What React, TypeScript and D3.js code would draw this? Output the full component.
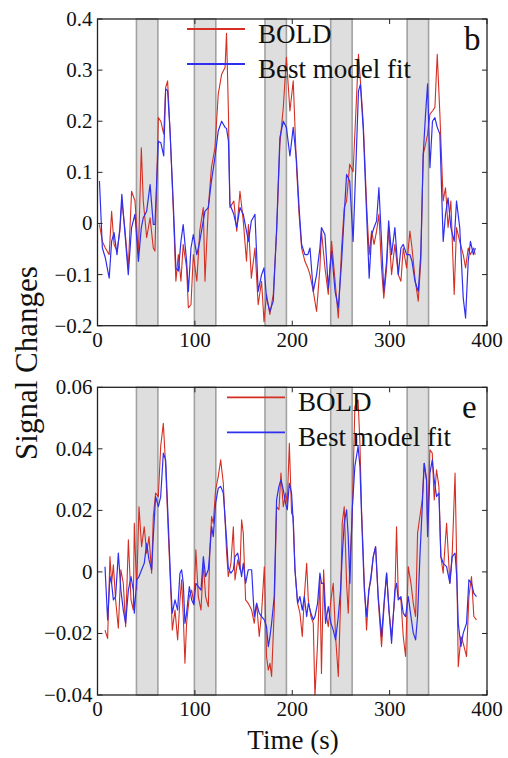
import React from 'react';
import * as d3 from 'd3';

// ---------- data ----------
const xTicks = [0, 100, 200, 300, 400];
const yTicksB = [0.4, 0.3, 0.2, 0.1, 0, -0.1, -0.2];
const yTicksE = [0.06, 0.04, 0.02, 0, -0.02, -0.04];
const blockStarts = [40, 99.5, 172, 239.5, 318];
const blockEnds = [62, 121.5, 194, 261.5, 340];
const seriesNames = ['BOLD', 'Best model fit'];

const timeB = [
  2, 5, 8, 12, 14.5, 17, 20, 23, 25, 28,
  31.6, 35, 38.5, 42, 45, 47, 50.5, 54, 57.3, 59,
  62.5, 65, 68, 70, 72, 74.5, 78, 80.5, 83, 85.7,
  88, 91.5, 93.3, 96, 98.4, 102, 105, 108.6, 110.4, 113.8,
  117, 120.6, 124, 127.5, 131, 132.5, 134.5, 136, 140, 143,
  146.3, 149.7, 153, 155, 158, 161.7, 165, 168.5, 171, 173.6,
  177, 180.5, 184, 187.3, 190.8, 194, 197.6, 201, 204.4, 207,
  209.6, 213, 216, 218.2, 221.6, 225, 228.4, 230, 233.6, 237,
  240.4, 244, 247.3, 250.7, 253.4, 255.8, 259, 262.5, 266, 268,
  270, 273, 276.5, 279, 281.5, 284, 286.6, 289, 291.7, 294,
  296.9, 299, 302, 305.4, 308.9, 311.6, 314, 317.4, 320.8, 323,
  326, 329.4, 332, 334.5, 336.9, 339, 341.4, 344, 346.5, 348.9,
  351.6, 355, 357.4, 360, 362.9, 366.3, 368.7, 372, 375.6, 378,
  380.7, 383, 386, 388,
];
const boldB = [
  -0.002, -0.035, -0.048, -0.061, 0.024, -0.041, -0.054, -0.015, 0.044, -0.008,
  -0.087, 0.063, 0.044, -0.061, 0.148, 0.044, -0.028, 0.011, -0.048, -0.054,
  0.207, 0.2, 0.175, 0.266, 0.279, 0.181, 0.018, -0.113, -0.061, -0.113,
  -0.041, -0.087, -0.165, -0.159, -0.061, -0.113, -0.015, 0.031, -0.113, 0.031,
  0.109, 0.148, 0.253, 0.292, 0.305, 0.372, 0.214, 0.031, 0.044, -0.015,
  0.063, 0.005, -0.074, -0.002, -0.107, -0.048, -0.159, -0.113, -0.192, -0.139,
  -0.178, -0.139, -0.015, 0.155, 0.227, 0.325, 0.22, 0.279, 0.109, 0.018,
  -0.048, -0.074, -0.087, -0.1, -0.133, -0.172, -0.087, -0.015, -0.087, -0.139,
  -0.035, -0.113, -0.185, -0.048, 0.031, 0.044, 0.116, 0.101, 0.246, 0.331,
  0.279, 0.194, 0.031, -0.061, -0.015, -0.041, -0.015, 0.018, -0.087, -0.146,
  -0.087, -0.008, -0.1, -0.041, -0.1, -0.113, -0.048, -0.087, -0.015, -0.048,
  -0.107, -0.152, -0.074, 0.135, 0.155, 0.175, 0.214, 0.22, 0.227, 0.331,
  0.214, 0.044, 0.07, -0.008, 0.044, -0.139, -0.008, -0.035, -0.061, -0.087,
  -0.048, -0.061, -0.048, -0.061,
];
const fitB = [
  0.083, -0.048, -0.067, -0.107, -0.035, -0.018, -0.061, -0.008, 0.057, -0.015,
  -0.1, -0.008, 0.018, -0.074, -0.008, 0.011, 0.024, 0.076, -0.002, -0.002,
  0.161, 0.158, 0.132, 0.263, 0.26, 0.181, 0.031, -0.087, -0.093, -0.035,
  -0.002, -0.074, -0.133, -0.048, -0.022, -0.061, -0.035, 0.005, 0.024, 0.031,
  0.083, 0.129, 0.181, 0.2, 0.188, 0.186, 0.161, 0.037, 0.018, -0.008,
  0.031, 0.018, -0.015, -0.035, 0.005, 0.018, -0.133, -0.1, -0.087, -0.146,
  -0.172, -0.152, -0.008, 0.168, 0.2, 0.188, 0.132, 0.188, 0.122, 0.031,
  -0.041, -0.061, -0.061, -0.048, -0.133, -0.1, -0.048, -0.008, -0.022, -0.126,
  -0.054, -0.133, -0.165, -0.074, 0.018, 0.096, 0.083, -0.035, 0.148, 0.259,
  0.272, 0.181, 0.011, -0.107, -0.022, -0.008, 0.005, 0.07, -0.035, -0.133,
  -0.074, 0.005, -0.061, -0.008, -0.1, -0.048, -0.041, -0.061, -0.061, -0.074,
  -0.113, -0.133, -0.061, 0.135, 0.214, 0.273, 0.109, 0.2, 0.207, 0.188,
  0.175, -0.035, 0.018, 0.05, -0.008, -0.035, 0.044, -0.008, -0.146, -0.185,
  -0.074, -0.035, -0.061, -0.048,
];

const timeE = [
  7.7, 10.4, 12.8, 14.5, 16.3, 18.6, 21.4, 24, 26.5, 28.9,
  31.7, 34.4, 36.8, 37.8, 40.2, 42.6, 45.3, 48, 50.5, 52.9,
  55.6, 57.3, 59.7, 62.5, 64.9, 67.6, 70, 72.7, 75.5, 76.8,
  79.6, 82.3, 84.7, 86.4, 88.1, 89.8, 91.5, 94.3, 96.7, 99,
  101, 103.5, 106.3, 108.7, 111, 113.8, 115.5, 117.2, 118.9, 121.3,
  124, 126.5, 129.2, 132.6, 134.3, 137, 139.5, 141.2, 144, 146.3,
  148, 149.7, 152.1, 154.8, 158.3, 161, 163.4, 166.1, 168.5, 171.3,
  173.6, 175.4, 177.1, 178.8, 181.5, 183.9, 186.3, 188.4, 190.8, 193.2,
  194.9, 197, 199.3, 201, 202.8, 205.5, 207.9, 210.3, 212.4, 214.8,
  216.5, 219.2, 221.6, 223.3, 226, 228.4, 230, 232.2, 234.2, 237,
  239.7, 242.1, 244.5, 247.3, 249.6, 251.3, 253.4, 255.8, 257.5, 259.2,
  261.6, 264.3, 267.6, 269.5, 271.2, 274, 276.3, 278.7, 280.8, 283.2,
  285.6, 288.3, 291.7, 294.5, 296.9, 299.3, 302, 305.4, 307.1, 308.9,
  311.6, 314, 316.4, 319.1, 321.9, 324.3, 326.7, 328.7, 331.1, 333.5,
  335.5, 337.9, 339, 341.4, 343.8, 345.8, 348.2, 350.6, 352.6, 355,
  358.5, 361.9, 364.3, 367.2, 368.9, 370.5, 373.2, 375.6, 379, 381.4,
  384.1, 386.5, 389.2,
];
const boldE = [
  -0.0189, -0.0216, 0.005, -0.0037, 0.0023, -0.0091, -0.0183, 0.0007, -0.0037, -0.0178,
  0.0104, -0.0091, -0.0124, 0.0158, -0.0059, 0.0212, 0.0082, 0.0147, 0.0061, 0.0115,
  -0.0004, 0.018, 0.0256, 0.0245, 0.0408, 0.0483, 0.0343, 0.0126, -0.008, -0.0189,
  -0.0124, -0.0221, -0.0091, -0.0026, -0.0145, -0.0297, -0.0167, -0.008, -0.0059, -0.0102,
  0.0072, -0.008, -0.0124, 0.0028, -0.008, -0.0113, 0.0082, 0.018, 0.0158, 0.0267,
  0.031, 0.0364, 0.0288, 0.0061, -0.0015, 0.0028, 0.0147, -0.0026, 0.0039, 0.0007,
  0.0169, 0.0126, -0.0091, -0.0102, -0.0124, -0.0167, -0.0102, -0.021, -0.0134, 0.0017,
  -0.0275, -0.0319, -0.0297, -0.034, -0.0124, 0.0212, 0.0202, 0.0321, 0.0212, 0.0256,
  0.0223, 0.0418, 0.0191, 0.018, 0.0007, -0.0102, -0.0134, -0.021, -0.008, 0.0028,
  -0.0091, -0.0145, -0.0167, -0.0405, -0.0232, -0.0015, -0.033, 0.0007, -0.0124, -0.0178,
  -0.0091, -0.0037, -0.021, -0.034, -0.0102, 0.0158, 0.0212, -0.0037, -0.0134, 0.0028,
  0.018, 0.0538, 0.0559, 0.0418, 0.0202, -0.0037, -0.0189, -0.0059, -0.0026, 0.005,
  0.0082, -0.0091, -0.0243, -0.0102, -0.0004, -0.0124, -0.021, -0.008, 0.0147, -0.008,
  -0.0091, -0.021, -0.0275, 0.0017, -0.0037, -0.0102, -0.0145, 0.0126, 0.018, 0.0234,
  0.0353, 0.0299, 0.0137, 0.0397, 0.0386, 0.0234, 0.0332, 0.0278, 0.005, -0.0004,
  0.0158, -0.0037, 0.0061, 0.0321, 0.0028, -0.0308, -0.021, -0.0232, -0.0275, -0.008,
  -0.0015, -0.0145, -0.0156,
];
const fitE = [
  0.0017, -0.0156, -0.0015, -0.0037, -0.0091, -0.008, 0.0061, -0.0059, -0.0124, -0.0167,
  -0.0059, -0.0015, -0.0059, -0.0134, -0.0026, -0.0015, 0.0007, 0.0028, 0.0093, 0.0039,
  0.0007, 0.0115, 0.0245, 0.0212, 0.0245, 0.0386, 0.0364, 0.0158, -0.0059, -0.0134,
  -0.0091, -0.0124, -0.0004, 0.0007, -0.0037, -0.0167, -0.0134, -0.0048, -0.0091, -0.0107,
  -0.0037, -0.0048, -0.0059, 0.005, -0.0015, 0.0007, 0.0072, 0.0147, 0.0115, 0.0223,
  0.0272, 0.0278, 0.0256, 0.0104, 0.0012, -0.0004, 0.0007, 0.005, 0.0061, 0.0017,
  -0.0015, 0.0028, -0.0037, 0.0007, 0.0007, -0.0145, -0.0102, -0.0134, -0.0145, -0.0156,
  -0.0178, -0.0243, -0.021, -0.0167, -0.008, 0.0234, 0.0278, 0.0299, 0.0267, 0.0223,
  0.0202, 0.0288, 0.0256, 0.0158, 0.0007, -0.0102, -0.008, -0.0124, -0.008, -0.0145,
  -0.0102, -0.0134, -0.0156, -0.0145, -0.0102, -0.0004, -0.0037, -0.0037, -0.0167, -0.0113,
  -0.0167, -0.0189, -0.0221, -0.0145, -0.0059, 0.005, 0.0158, 0.0202, 0.0115, -0.0037,
  0.0202, 0.0343, 0.0408, 0.0343, 0.018, -0.0059, -0.0145, -0.0059, -0.0015, 0.005,
  0.0082, -0.008, -0.021, -0.0091, -0.0004, -0.0124, -0.0232, -0.0059, -0.0037, -0.0091,
  -0.008, -0.0134, -0.0145, -0.008, -0.0145, -0.0199, -0.0221, -0.0145, 0.005, 0.0212,
  0.0353, 0.0299, 0.0115, 0.0321, 0.0364, 0.0299, 0.0245, 0.0256, 0.005, 0.0028,
  0.0017, -0.0037, 0.005, 0.0061, -0.0015, -0.0167, -0.0243, -0.0199, -0.0167, -0.0026,
  -0.0037, -0.007, -0.008,
];

// ---------- style ----------
const FONT = '"Liberation Serif", "Times New Roman", serif';
const RED = '#d42f22';
const BLUE = '#2f2ff0';
const W = 508;
const H = 758;
const LEFT = 97.5;
const RIGHT = 487;

const fmt = (v: number) => (v === 0 ? '0' : String(v).replace('-', '\u2212'));

interface PanelProps {
  id: string;
  top: number;
  bottom: number;
  domain: [number, number];
  yTicks: number[];
  time: number[];
  bold: number[];
  fit: number[];
  letter: string;
  letterX: number;
  letterY: number;
  legendX: number;
}

function Panel(p: PanelProps) {
  const x = d3.scaleLinear().domain([0, 400]).range([LEFT, RIGHT]);
  const y = d3.scaleLinear().domain(p.domain).range([p.bottom, p.top]);
  const line = d3
    .line<number>()
    .x((_, i) => x(p.time[i]))
    .y((d) => y(d));
  const tick = 5;
  return (
    <g>
      <defs>
        <clipPath id={p.id}>
          <rect x={LEFT} y={p.top} width={RIGHT - LEFT} height={p.bottom - p.top} />
        </clipPath>
      </defs>
      {blockStarts.map((s, i) => (
        <rect
          key={i}
          x={x(s)}
          y={p.top}
          width={x(blockEnds[i]) - x(s)}
          height={p.bottom - p.top}
          fill="#dedede"
          stroke="#a2a2a2"
          strokeWidth={1.6}
        />
      ))}
      <g clipPath={`url(#${p.id})`}>
        <path d={line(p.bold) || ''} fill="none" stroke={RED} strokeWidth={1.1} strokeLinejoin="round" />
        <path d={line(p.fit) || ''} fill="none" stroke={BLUE} strokeWidth={1.2} strokeLinejoin="round" />
      </g>
      <rect x={LEFT} y={p.top} width={RIGHT - LEFT} height={p.bottom - p.top} fill="none" stroke="#222" strokeWidth={1.3} />
      {xTicks.map((t) => (
        <g key={t}>
          <line x1={x(t)} x2={x(t)} y1={p.bottom} y2={p.bottom - tick} stroke="#222" strokeWidth={1} />
          <line x1={x(t)} x2={x(t)} y1={p.top} y2={p.top + tick} stroke="#222" strokeWidth={1} />
          <text x={x(t)} y={p.bottom + 21} textAnchor="middle" fontFamily={FONT} fontSize={21} fill="#111">
            {t}
          </text>
        </g>
      ))}
      {p.yTicks.map((v) => (
        <g key={v}>
          <line x1={LEFT} x2={LEFT + tick} y1={y(v)} y2={y(v)} stroke="#222" strokeWidth={1} />
          <line x1={RIGHT} x2={RIGHT - tick} y1={y(v)} y2={y(v)} stroke="#222" strokeWidth={1} />
          <text x={LEFT - 5} y={y(v) + 7} textAnchor="end" fontFamily={FONT} fontSize={21} fill="#111">
            {fmt(v)}
          </text>
        </g>
      ))}
      <text x={p.letterX} y={p.letterY} fontFamily={FONT} fontSize={33} fill="#111">
        {p.letter}
      </text>
      {[RED, BLUE].map((c, i) => (
        <g key={c}>
          <line
            x1={p.legendX}
            x2={p.legendX + 58}
            y1={p.top + 10 + i * 35}
            y2={p.top + 10 + i * 35}
            stroke={c}
            strokeWidth={1.8}
          />
          <text x={p.legendX + 71} y={p.top + 23.5 + i * 35} fontFamily={FONT} fontSize={27} fill="#111">
            {seriesNames[i]}
          </text>
        </g>
      ))}
    </g>
  );
}

export default function App() {
  return (
    <svg
      width={W}
      height={H}
      viewBox={`0 0 ${W} ${H}`}
      style={{ position: 'absolute', left: 0, top: 0, background: '#fff' }}
    >
      <rect width={W} height={H} fill="#fff" />
      <Panel
        id="clipB"
        top={19}
        bottom={325.7}
        domain={[-0.2, 0.4]}
        yTicks={yTicksB}
        time={timeB}
        bold={boldB}
        fit={fitB}
        letter="b"
        letterX={464}
        letterY={50}
        legendX={187}
      />
      <Panel
        id="clipE"
        top={387.3}
        bottom={695}
        domain={[-0.04, 0.06]}
        yTicks={yTicksE}
        time={timeE}
        bold={boldE}
        fit={fitE}
        letter="e"
        letterX={462}
        letterY={418}
        legendX={227}
      />
      <text
        transform="translate(37,363) rotate(-90)"
        textAnchor="middle"
        fontFamily={FONT}
        fontSize={31}
        fill="#111"
      >
        Signal Changes
      </text>
      <text x={293} y={749} textAnchor="middle" fontFamily={FONT} fontSize={27} fill="#111">
        Time (s)
      </text>
    </svg>
  );
}
